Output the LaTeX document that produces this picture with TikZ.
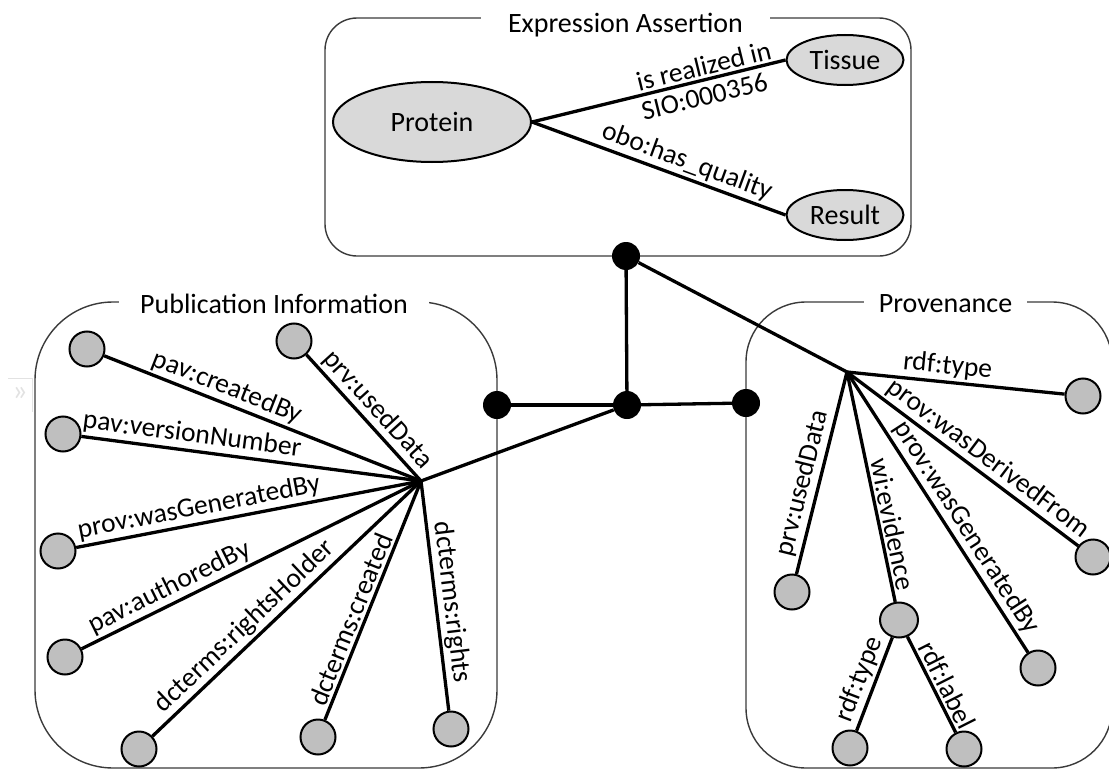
\documentclass[tikz,border=0pt]{standalone}
\usepackage{fontspec}
\setmainfont{Carlito}
\usetikzlibrary{shapes.geometric}
\definecolor{leafgrey}{HTML}{BFBFBF}
\definecolor{ellgrey}{HTML}{D9D9D9}
\definecolor{framegrey}{HTML}{3A3A3A}
\definecolor{tabgrey}{HTML}{E2E2E2}
\begin{document}
\begin{tikzpicture}[x=1bp,y=-1bp,
  frame/.style={draw=framegrey,line width=1.4bp,rounded corners=#1},
  boxtitle/.style={fill=white,inner ysep=0pt,inner xsep=#1,anchor=base,
    font=\fontsize{28bp}{32bp}\selectfont},
  ell/.style={ellipse,draw,line width=2bp,fill=ellgrey,inner sep=0pt,
    font=\fontsize{28bp}{32bp}\selectfont},
  leaf/.style={circle,draw,line width=2bp,fill=leafgrey,minimum size=35bp,inner sep=0pt},
  dot/.style={circle,fill=black,minimum size=28bp,inner sep=0pt},
  conn/.style={line width=3.3bp},
  lbl/.style={sloped,inner sep=2.5bp,font=\fontsize{27.5bp}{32bp}\selectfont}]
\useasboundingbox (0,0) rectangle (1109,772);

% side tab glyph at the left edge
\draw[tabgrey,line width=1bp] (8,378) -- (32,378) -- (32,412);
\node[text=tabgrey,font=\fontsize{30bp}{32bp}\selectfont] (tab) at (20,394) {»};

% group frames with their titles
\draw[frame=32bp] (325,18) rectangle (911,256);
\draw[frame=78bp] (35,302) rectangle (497,768);
\draw[frame=60bp] (746,302) rectangle (1112,768);
\node[boxtitle=27.5bp] (tEA) at (625.5,33) {Expression Assertion};
\node[boxtitle=21bp] (tPI) at (274,313) {Publication Information};
\node[boxtitle=15bp] (tPR) at (945.5,312) {Provenance};

% expression assertion
\node[ell,minimum width=198bp,minimum height=80bp] (prot) at (432,122) {Protein};
\node[ell,minimum width=117bp,minimum height=50bp] (tis) at (845,60) {Tissue};
\node[ell,minimum width=117bp,minimum height=50bp] (res) at (845,215) {Result};
\draw[conn] (prot.east) -- node[lbl,pos=0.69,above] {is realized in}
  node[lbl,pos=0.665,below,inner sep=5bp] {SIO:000356} (tis.west);
\draw[conn] (prot.east) -- node[lbl,pos=0.59,above] {obo:has\_quality} (res.west);

% junctions
\node[dot] (A) at (626,256) {};
\node[dot] (B) at (627,405) {};
\node[dot] (L) at (497,405) {};
\node[dot] (R) at (746,403) {};
\coordinate (P) at (421,481);
\coordinate (Q) at (847,372);
\draw[conn] (A) -- (B);
\draw[conn] (B) -- (L);
\draw[conn] (B) -- (R);
\draw[conn] (A) -- (Q);
\draw[conn] (B) -- (P);

% publication information
\node[leaf] (cb) at (87,349) {};
\node[leaf] (ud) at (294,341) {};
\node[leaf] (vn) at (63,434) {};
\node[leaf] (wg) at (58,551) {};
\node[leaf] (ab) at (65,657) {};
\node[leaf] (rh) at (139,749) {};
\node[leaf] (cr) at (318,737) {};
\node[leaf] (ri) at (451,729) {};
\draw[conn] (cb) -- node[lbl,pos=0.37,above] {pav:createdBy} (P);
\draw[conn] (ud) -- node[lbl,pos=0.52,above] {prv:usedData} (P);
\draw[conn] (vn) -- node[lbl,pos=0.32,above] {pav:versionNumber} (P);
\draw[conn] (wg) -- node[lbl,pos=0.365,above] {prov:wasGeneratedBy} (P);
\draw[conn] (ab) -- node[lbl,pos=0.28,above] {pav:authoredBy} (P);
\draw[conn] (rh) -- node[lbl,pos=0.385,above] {dcterms:rightsHolder} (P);
\draw[conn] (cr) -- node[lbl,pos=0.40,above] {dcterms:created} (P);
\draw[conn] (P) -- node[lbl,pos=0.535,above] {dcterms:rights} (ri);

% provenance
\node[leaf] (ty) at (1083,396) {};
\node[leaf] (pu) at (792,592) {};
\node[leaf,ellipse,minimum width=38bp,minimum height=35bp] (ev) at (899,620) {};
\node[leaf] (pg) at (1038,668) {};
\node[leaf] (df) at (1093,557) {};
\node[leaf] (et) at (850,748) {};
\node[leaf] (el) at (964,749) {};
\draw[conn] (Q) -- node[lbl,pos=0.455,above] {rdf:type} (ty);
\draw[conn] (Q) -- node[lbl,pos=0.57,above] {prov:wasDerivedFrom} (df);
\draw[conn] (Q) -- node[lbl,pos=0.585,above] {prov:wasGeneratedBy} (pg);
\draw[conn] (Q) -- node[lbl,pos=0.675,above] {wi:evidence} (ev);
\draw[conn] (pu) -- node[lbl,pos=0.43,above] {prv:usedData} (Q);
\draw[conn] (et) -- node[lbl,pos=0.49,above] {rdf:type} (ev);
\draw[conn] (ev) -- node[lbl,pos=0.57,above] {rdf:label} (el);
\end{tikzpicture}
\end{document}
